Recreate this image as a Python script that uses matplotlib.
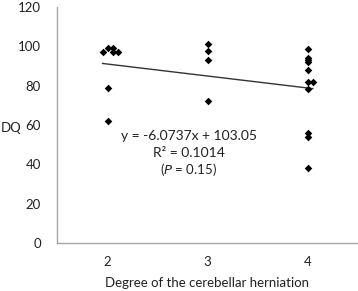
import matplotlib
matplotlib.use('Agg')
import matplotlib.pyplot as plt
import numpy as np

plt.rcParams['font.family'] = ['Lato', 'DejaVu Sans']

# degree of herniation (slightly offset where points overlap) and DQ
x_deg = [1.95, 2.0, 2.05, 2.05, 2.1, 2.0, 2.0,
         3.0, 3.0, 3.0, 3.0,
         4.0, 4.0, 4.0, 4.0, 4.0, 4.0, 4.05, 4.0, 4.0, 4.0, 4.0]
dq = [97, 99, 99, 97, 97, 79, 62,
      101, 97.5, 93, 72,
      98.5, 94, 93, 92, 88, 82, 82, 78, 56, 54, 38]

slope = -6.0737
intercept = 103.05
x_ticks = [2, 3, 4]
y_ticks = [0, 20, 40, 60, 80, 100, 120]

fig = plt.figure(figsize=(3.58, 2.91), dpi=100)
ax = fig.add_axes([0.1606, 0.164, 0.839, 0.813])

ax.scatter(x_deg, dq, marker='D', s=15, color='black', zorder=3, linewidths=0)

fit_x = np.array([min(x_deg), max(x_deg)])
ax.plot(fit_x, slope * fit_x + intercept, color='#333333', lw=1.0)

ax.set_xlim(1.5, 4.5)
ax.set_ylim(0, 120)
ax.set_xticks(x_ticks)
ax.set_yticks(y_ticks)
ax.tick_params(length=0, labelsize=9.5, colors='#222222')
ax.tick_params(axis='y', pad=12)
ax.tick_params(axis='x', pad=9)
for side in ['top', 'right']:
    ax.spines[side].set_visible(False)
for side in ['left', 'bottom']:
    ax.spines[side].set_color('#a6a6a6')
    ax.spines[side].set_linewidth(1.0)

ax.text(2.81, 54.4, 'y = -6.0737x + 103.05', fontsize=10, ha='center', va='center', color='#222222')
ax.text(2.81, 45.9, 'R² = 0.1014', fontsize=10, ha='center', va='center', color='#222222')
ax.text(2.81, 37.2, '($P$ = 0.15)', fontsize=9.5, ha='center', va='center', color='#222222')

fig.text(0.5 / 358, 1 - 128 / 291, 'DQ', fontsize=9.5, ha='left', va='center', color='#222222')
fig.text(207 / 358, 1 - 283 / 291, 'Degree of the cerebellar herniation', fontsize=9.5,
         ha='center', va='center', color='#222222')

fig.savefig('out.png', dpi=100)
